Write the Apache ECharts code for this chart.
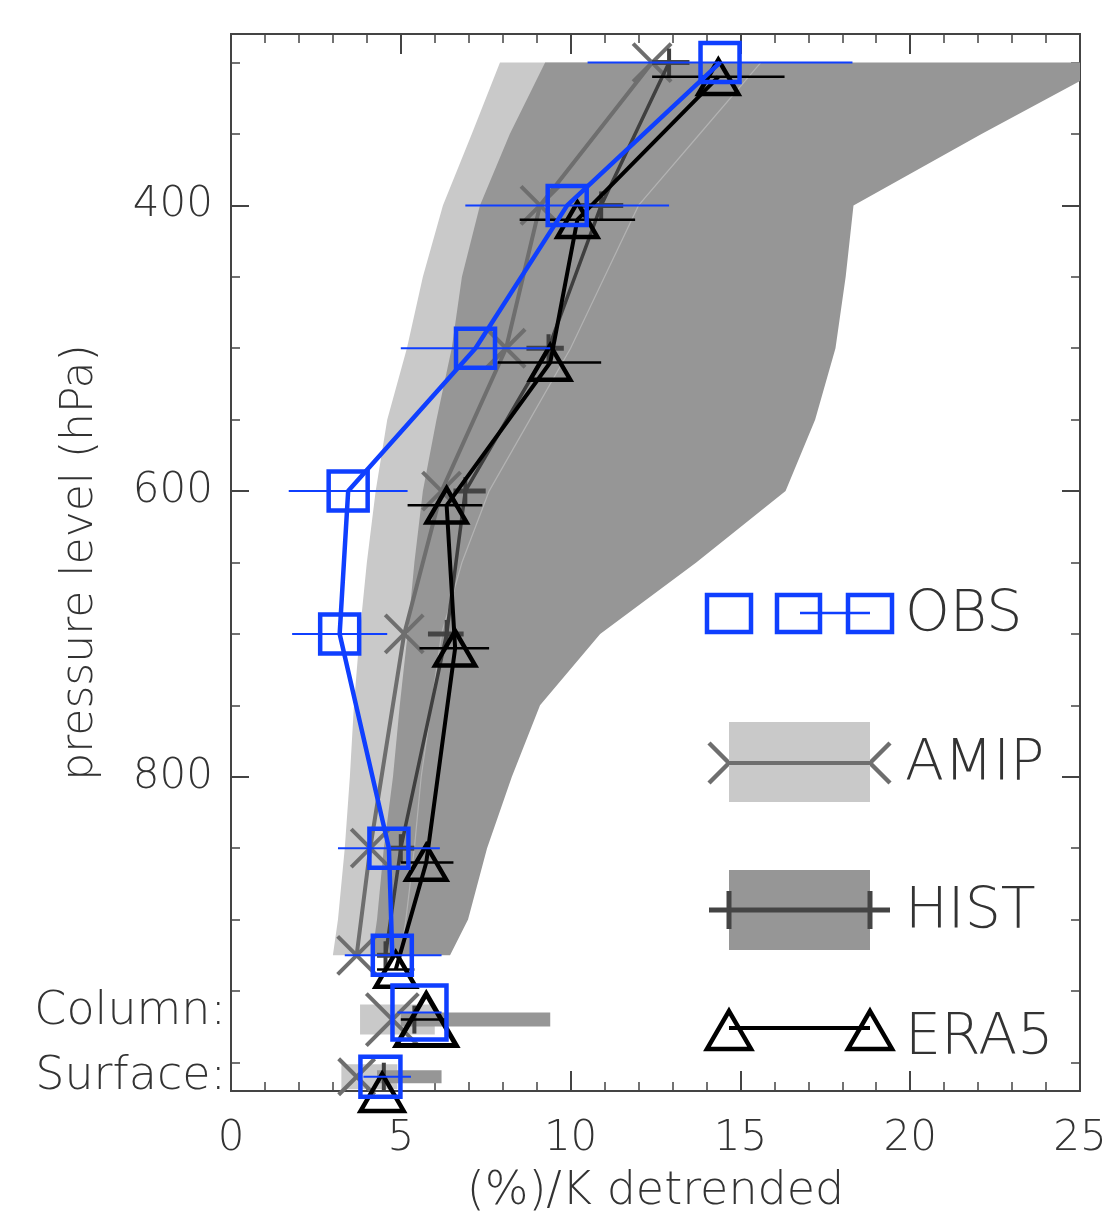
<!DOCTYPE html>
<html>
<head>
<meta charset="utf-8">
<script src="https://cdn.jsdelivr.net/npm/echarts@6/dist/echarts.min.js"></script>
<style>
  html, body { margin: 0; padding: 0; background: #fff; }
  #main { width: 1105px; height: 1216px; }
</style>
</head>
<body>
<div id="main"></div>
<script>
// pressure levels of the profiles (hPa)
const levels = [300, 400, 500, 600, 700, 850, 925];
// OBS profile and its error bar
const obsVal = [14.4, 9.9, 7.2, 3.45, 3.2, 4.65, 4.75];
const obsLo = [10.5, 6.9, 5.0, 1.7, 1.8, 3.15, 3.35];
const obsHi = [18.3, 12.9, 9.4, 5.2, 4.6, 6.15, 6.2];
// AMIP ensemble mean
const amipVal = [12.4, 9.1, 8.1, 6.2, 5.1, 4.1, 3.7];
// HIST ensemble mean and its error bar
const histVal = [12.9, 10.9, 9.35, 6.9, 6.35, 5.0, 4.55];
const histLo = [12.4, 10.3, 8.7, 6.55, 5.8, 4.7, 4.3];
const histHi = [13.5, 11.55, 9.8, 7.5, 6.85, 5.4, 5.0];
// ERA5 profile and its error bar
const era5Val = [14.35, 10.2, 9.4, 6.35, 6.6, 5.75, 4.85];
const era5Lo = [12.4, 8.5, 7.85, 5.2, 5.55, 5.0, 4.3];
const era5Hi = [16.3, 11.9, 10.9, 7.4, 7.6, 6.55, 5.4];

// model spread envelopes
const bandLevels = [300, 350, 400, 450, 500, 550, 600, 650, 700, 750, 800, 850, 900, 925];
const amipMin = [7.92, 7.09, 6.24, 5.65, 5.18, 4.6, 4.26, 4.0, 3.79, 3.62, 3.5, 3.35, 3.15, 3.0];
const amipMax = [15.6, 13.8, 12.0, 11.0, 10.0, 8.8, 7.6, 6.8, 6.2, 5.9, 5.6, 5.4, 5.15, 5.0];
const histMin = [9.25, 8.21, 7.33, 6.8, 6.5, 6.05, 5.65, 5.4, 5.2, 4.97, 4.77, 4.5, 4.3, 4.15];
const histMax = [26.0, 22.1, 18.33, 18.1, 17.8, 17.2, 16.33, 13.7, 10.87, 9.1, 8.27, 7.54, 6.98, 6.45];

// column and surface values
const colObs = [5.55, 4.9, 6.2];     // value, lo, hi
const colAmip = 4.75;
const colHist = 5.4;
const colEra5 = [5.75, 5.0, 6.3];
const colAmipRange = [3.8, 6.0];
const colHistRange = [5.0, 9.4];
const sfcObs = [4.4, 3.9, 5.3];
const sfcAmip = 3.7;
const sfcHist = 4.5;
const sfcEra5 = 4.45;
const sfcAmipRange = [3.25, 4.9];
const sfcHistRange = [4.3, 6.2];

// axis ticks
const yMajor = [400, 600, 800];
const yMinor = [300, 350, 450, 500, 550, 650, 700, 750, 850, 900, 950, 1000];

// where the column / surface rows sit on the pressure axis
const colP = 965;
const sfcP = 1010;
const era5Shift = 10;
const colShift = 5;

const BLUE = '#0f3fff';
const AMIP_C = '#6e6e6e';
const HIST_C = '#3f3f3f';
const LIGHT = '#c9c9c9';
const DARK = '#969696';
const TXT = '#333';
const FONT = 'DejaVu Sans';
const FW = 200;
const LEG_FONT = FW + ' 57px "DejaVu Sans"';

const chart = echarts.init(document.getElementById('main'));

function clipRect(params) {
  const cs = params.coordSys;
  return { type: 'rect', shape: { x: cs.x, y: cs.y, width: cs.width, height: cs.height } };
}

function band(lo, hi, color, z) {
  return {
    type: 'custom', z: z, silent: true, clip: true,
    data: [[0, 300]],
    renderItem(params, api) {
      const pts = [];
      bandLevels.forEach((p, i) => pts.push(api.coord([lo[i], p])));
      for (let i = bandLevels.length - 1; i >= 0; i--) pts.push(api.coord([hi[i], bandLevels[i]]));
      return {
        type: 'group', clipPath: clipRect(params),
        children: [{ type: 'polygon', shape: { points: pts }, style: { fill: color } }]
      };
    }
  };
}

function seam(vals, z) {
  return {
    type: 'custom', z: z, silent: true, clip: true,
    data: [[0, 300]],
    renderItem(params, api) {
      const pts = bandLevels.map((p, i) => api.coord([vals[i], p]));
      return {
        type: 'group', clipPath: clipRect(params),
        children: [{ type: 'polyline', shape: { points: pts }, style: { stroke: '#b3b3b3', lineWidth: 1.2, fill: 'none' } }]
      };
    }
  };
}

function profile(vals, press, color, width, z) {
  return {
    type: 'line', z: z, symbol: 'none', silent: true, animation: false,
    data: vals.map((v, i) => [v, press[i]]),
    lineStyle: { color: color, width: width }
  };
}

// horizontal error bars: data items are [lo, hi, p]
function errBars(items, color, width, z) {
  return {
    type: 'custom', z: z, silent: true,
    data: items,
    renderItem(params, api) {
      const a = api.coord([api.value(0), api.value(2)]);
      const b = api.coord([api.value(1), api.value(2)]);
      return { type: 'line', shape: { x1: a[0], y1: a[1], x2: b[0], y2: b[1] }, style: { stroke: color, lineWidth: width } };
    }
  };
}

// thick range bars for column / surface rows: [lo, hi, p]
function rangeBars(items, color, thick, z) {
  return {
    type: 'custom', z: z, silent: true,
    data: items,
    renderItem(params, api) {
      const a = api.coord([api.value(0), api.value(2)]);
      const b = api.coord([api.value(1), api.value(2)]);
      return { type: 'rect', shape: { x: a[0], y: a[1] - thick / 2, width: b[0] - a[0], height: thick }, style: { fill: color } };
    }
  };
}

function shape(kind, cx, cy, size, color, lw) {
  const h = size / 2;
  if (kind === 'square') {
    return { type: 'rect', shape: { x: cx - h, y: cy - h, width: size, height: size }, style: { fill: 'none', stroke: color, lineWidth: lw } };
  }
  if (kind === 'cross') {
    return {
      type: 'group', children: [
        { type: 'line', shape: { x1: cx - h, y1: cy - h, x2: cx + h, y2: cy + h }, style: { stroke: color, lineWidth: lw } },
        { type: 'line', shape: { x1: cx - h, y1: cy + h, x2: cx + h, y2: cy - h }, style: { stroke: color, lineWidth: lw } }
      ]
    };
  }
  if (kind === 'bar') {
    return { type: 'line', shape: { x1: cx, y1: cy - h, x2: cx, y2: cy + h }, style: { stroke: color, lineWidth: lw } };
  }
  // triangle
  const th = size * 0.43;
  return {
    type: 'polygon',
    shape: { points: [[cx, cy - th], [cx + h, cy + th], [cx - h, cy + th]] },
    style: { fill: 'none', stroke: color, lineWidth: lw, lineJoin: 'miter' }
  };
}

function markers(kind, items, size, color, lw, z) {
  return {
    type: 'custom', z: z, silent: true, clip: false,
    data: items,
    renderItem(params, api) {
      const c = api.coord([api.value(0), api.value(1)]);
      return shape(kind, c[0], c[1], size, color, lw);
    }
  };
}

const era5Press = levels.map(p => p + era5Shift);

const axisLineStyle = { color: '#444', width: 2 };
const labelStyle = { color: TXT, fontFamily: FONT, fontWeight: FW, fontSize: 42 };

const xBase = {
  type: 'value', min: 0, max: 25, interval: 5,
  splitLine: { show: false },
  axisLine: { show: true, onZero: false, lineStyle: axisLineStyle },
  axisTick: { inside: true, length: 20, lineStyle: axisLineStyle },
  minorTick: { show: true, splitNumber: 5, length: 9, lineStyle: { color: '#444', width: 1.5 } }
};
const yBase = {
  type: 'value', min: 280, max: 1020, inverse: true,
  splitLine: { show: false },
  axisLine: { show: true, onZero: false, lineStyle: axisLineStyle }
};

const option = {
  animation: false,
  backgroundColor: '#fff',
  grid: { left: 231, top: 34, width: 849, height: 1057, containLabel: false, outerBoundsMode: 'none' },
  xAxis: [
    Object.assign({}, xBase, {
      position: 'bottom',
      axisLabel: Object.assign({ margin: 27 }, labelStyle),
      name: '(%)/K detrended', nameLocation: 'middle', nameGap: 78,
      nameTextStyle: { color: TXT, fontFamily: FONT, fontWeight: FW, fontSize: 46 }
    }),
    Object.assign({}, xBase, { position: 'top', axisLabel: { show: false } })
  ],
  yAxis: [
    Object.assign({}, yBase, {
      position: 'left',
      axisTick: { inside: true, length: 18, customValues: yMajor, lineStyle: axisLineStyle },
      axisLabel: Object.assign({ customValues: yMajor, margin: 18 }, labelStyle),
      name: 'pressure level (hPa)', nameLocation: 'middle', nameGap: 128, nameRotate: 90,
      nameTextStyle: { color: TXT, fontFamily: FONT, fontWeight: FW, fontSize: 44 }
    }),
    Object.assign({}, yBase, {
      position: 'left',
      axisTick: { inside: true, length: 9, customValues: yMinor, lineStyle: { color: '#444', width: 1.5 } },
      axisLabel: Object.assign({}, labelStyle, {
        customValues: [colP, sfcP], margin: 5, fontSize: 46,
        formatter: v => (v === colP ? 'Column:' : 'Surface:')
      })
    }),
    Object.assign({}, yBase, {
      position: 'right',
      axisTick: { inside: true, length: 18, customValues: yMajor, lineStyle: axisLineStyle },
      axisLabel: { show: false }
    }),
    Object.assign({}, yBase, {
      position: 'right',
      axisTick: { inside: true, length: 9, customValues: yMinor, lineStyle: { color: '#444', width: 1.5 } },
      axisLabel: { show: false }
    })
  ],
  series: [
    band(amipMin, amipMax, LIGHT, 1),
    band(histMin, histMax, DARK, 1),
    seam(amipMax, 1),
    // column / surface ranges
    rangeBars([[colAmipRange[0], colAmipRange[1], colP + colShift]], LIGHT, 30, 1),
    rangeBars([[colHistRange[0], colHistRange[1], colP + colShift]], DARK, 14, 1),
    rangeBars([[sfcAmipRange[0], sfcAmipRange[1], sfcP]], LIGHT, 25, 1),
    rangeBars([[sfcHistRange[0], sfcHistRange[1], sfcP]], DARK, 13, 1),
    // AMIP
    profile(amipVal, levels, AMIP_C, 4, 2),
    markers('cross', levels.map((p, i) => [amipVal[i], p]), 38, AMIP_C, 4, 2),
    markers('cross', [[colAmip, colP + colShift]], 52, AMIP_C, 4, 2),
    markers('cross', [[sfcAmip, sfcP]], 36, AMIP_C, 4, 2),
    // HIST
    profile(histVal, levels, HIST_C, 3.5, 3),
    errBars(levels.map((p, i) => [histLo[i], histHi[i], p]), '#444', 5, 3),
    markers('bar', levels.map((p, i) => [histVal[i], p]), 28, HIST_C, 4, 3),
    markers('bar', [[colHist, colP + colShift], [sfcHist, sfcP]], 28, HIST_C, 4, 3),
    // ERA5
    profile(era5Val, era5Press, '#000', 4, 4),
    errBars(era5Press.map((p, i) => [era5Lo[i], era5Hi[i], p]), '#000', 2.5, 4),
    errBars([[colEra5[1], colEra5[2], colP + colShift]], '#000', 2.5, 4),
    markers('triangle', era5Press.map((p, i) => [era5Val[i], p]), 40, '#000', 4.5, 4),
    markers('triangle', [[colEra5[0], colP + colShift]], 60, '#000', 5, 4),
    markers('triangle', [[sfcEra5, sfcP + era5Shift + 1]], 43, '#000', 4.5, 4),
    // OBS
    profile(obsVal, levels, BLUE, 4.5, 5),
    errBars(levels.map((p, i) => [obsLo[i], obsHi[i], p]), BLUE, 2, 5),
    errBars([[colObs[1], colObs[2], colP], [sfcObs[1], sfcObs[2], sfcP]], BLUE, 2, 5),
    markers('square', levels.map((p, i) => [obsVal[i], p]), 39, BLUE, 4.5, 5),
    markers('square', [[colObs[0], colP]], 54, BLUE, 4.5, 5),
    markers('square', [[sfcObs[0], sfcP]], 40, BLUE, 4.5, 5)
  ],
  graphic: {
    elements: [
      // OBS
      { type: 'rect', z: 10, shape: { x: 707, y: 595, width: 44, height: 37 }, style: { fill: 'none', stroke: BLUE, lineWidth: 4.5 } },
      { type: 'rect', z: 10, shape: { x: 777, y: 595, width: 43, height: 37 }, style: { fill: 'none', stroke: BLUE, lineWidth: 4.5 } },
      { type: 'rect', z: 10, shape: { x: 848, y: 595, width: 44, height: 37 }, style: { fill: 'none', stroke: BLUE, lineWidth: 4.5 } },
      { type: 'line', z: 10, shape: { x1: 800, y1: 613, x2: 870, y2: 613 }, style: { stroke: BLUE, lineWidth: 2.5 } },
      { type: 'text', z: 10, style: { text: 'OBS', x: 905, y: 616, verticalAlign: 'middle', fill: TXT, font: LEG_FONT } },
      // AMIP
      { type: 'rect', z: 10, shape: { x: 729, y: 722, width: 141, height: 80 }, style: { fill: LIGHT } },
      { type: 'line', z: 10, shape: { x1: 729, y1: 763, x2: 870, y2: 763 }, style: { stroke: AMIP_C, lineWidth: 4 } },
      Object.assign({ z: 11 }, shape('cross', 729, 763, 40, AMIP_C, 4.5)),
      Object.assign({ z: 11 }, shape('cross', 870, 763, 40, AMIP_C, 4.5)),
      { type: 'text', z: 10, style: { text: 'AMIP', x: 905, y: 765, verticalAlign: 'middle', fill: TXT, font: LEG_FONT } },
      // HIST
      { type: 'rect', z: 10, shape: { x: 729, y: 870, width: 141, height: 80 }, style: { fill: DARK } },
      { type: 'line', z: 10, shape: { x1: 709, y1: 910, x2: 890, y2: 910 }, style: { stroke: '#444', lineWidth: 5 } },
      { type: 'line', z: 10, shape: { x1: 729, y1: 891, x2: 729, y2: 929 }, style: { stroke: '#444', lineWidth: 5 } },
      { type: 'line', z: 10, shape: { x1: 870, y1: 891, x2: 870, y2: 929 }, style: { stroke: '#444', lineWidth: 5 } },
      { type: 'text', z: 10, style: { text: 'HIST', x: 905, y: 913, verticalAlign: 'middle', fill: TXT, font: LEG_FONT } },
      // ERA5
      { type: 'line', z: 10, shape: { x1: 729, y1: 1028, x2: 870, y2: 1028 }, style: { stroke: '#000', lineWidth: 4 } },
      Object.assign({ z: 11 }, shape('triangle', 729, 1030, 44, '#000', 4.5)),
      Object.assign({ z: 11 }, shape('triangle', 870, 1030, 44, '#000', 4.5)),
      { type: 'text', z: 10, style: { text: 'ERA5', x: 905, y: 1039, verticalAlign: 'middle', fill: TXT, font: LEG_FONT } }
    ]
  }
};

chart.setOption(option);
</script>
</body>
</html>
